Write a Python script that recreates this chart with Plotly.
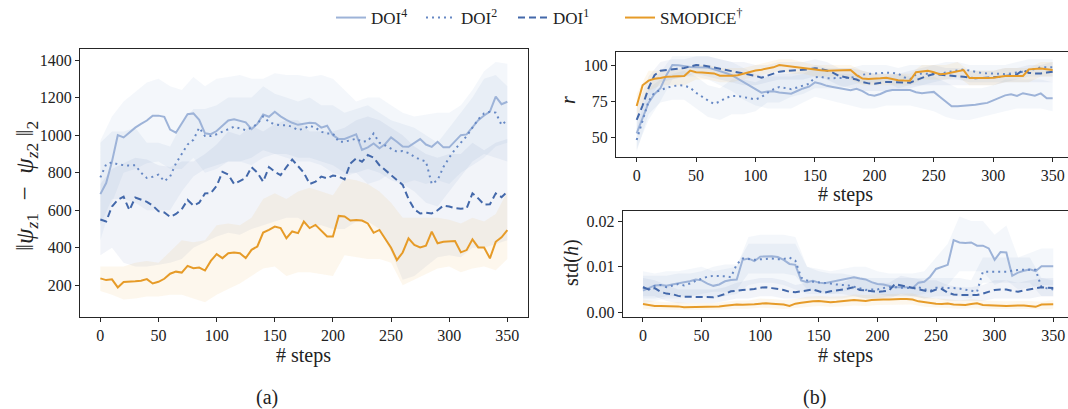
import plotly.graph_objects as go

# ---------------- data ----------------
steps = list(range(0, 355, 5))          # 71 points for the mean lines
steps_band = list(range(0, 360, 10))    # 36 points for the shaded bands

# Panel (a): ||psi_z1 - psi_z2||_2
dist_doi4 = [686, 745, 860, 1000, 988, 1015, 1040, 1060, 1078, 1104, 1104, 1098, 1030, 1013, 1060, 1112,
             1116, 1082, 1010, 1005, 1022, 1050, 1078, 1085, 1078, 1068, 1032, 1060, 1110, 1098, 1125, 1100,
             1082, 1066, 1055, 1060, 1066, 1064, 1040, 1050, 1000, 979, 980, 992, 1004, 921, 935, 956, 930,
             953, 988, 965, 940, 938, 960, 979, 950, 938, 965, 935, 935, 965, 1000, 1004, 1040, 1080, 1105,
             1125, 1205, 1165, 1178]
dist_doi2 = [775, 845, 855, 845, 840, 838, 840, 800, 772, 778, 790, 755, 780, 850, 900, 950, 975, 1040, 995,
             995, 1005, 1018, 1030, 1045, 1036, 1027, 1040, 1060, 1100, 1070, 1058, 1053, 1053, 1045, 1027,
             1035, 1050, 1040, 1018, 1009, 1009, 965, 965, 975, 981, 965, 968, 1009, 960, 945, 928, 912, 915,
             905, 885, 870, 860, 740, 760, 830, 880, 925, 960, 995, 1040, 1085, 1116, 1125, 1120, 1054, 1080]
dist_doi1 = [551, 540, 620, 655, 672, 600, 668, 655, 645, 625, 595, 588, 565, 580, 605, 655, 625, 640, 690,
             692, 730, 805, 790, 740, 755, 772, 830, 800, 752, 830, 805, 787, 830, 870, 835, 800, 740, 752,
             779, 770, 785, 780, 765, 849, 876, 858, 894, 880, 840, 815, 785, 765, 735, 660, 605, 583, 587,
             583, 600, 625, 620, 611, 608, 610, 690, 663, 630, 632, 690, 670, 699]
dist_smodice = [237, 228, 232, 189, 218, 218, 222, 225, 233, 210, 219, 235, 262, 273, 268, 304, 291, 295,
                279, 330, 366, 345, 371, 375, 371, 345, 389, 407, 481, 496, 513, 505, 451, 487, 478, 540,
                505, 522, 492, 460, 460, 570, 567, 545, 548, 545, 530, 480, 495, 450, 400, 335, 375, 450,
                415, 402, 411, 486, 424, 432, 432, 436, 376, 388, 445, 402, 402, 344, 432, 456, 494]

dist_doi4_lo = [440, 640, 800, 820, 850, 860, 820, 820, 880, 800, 820, 860, 860, 840, 880, 900, 880, 860,
                860, 840, 800, 780, 800, 740, 760, 800, 740, 760, 740, 760, 740, 800, 840, 880, 940, 960]
dist_doi4_hi = [970, 1100, 1180, 1230, 1280, 1300, 1260, 1240, 1310, 1260, 1300, 1310, 1320, 1300, 1300,
                1330, 1320, 1320, 1310, 1320, 1300, 1240, 1180, 1200, 1200, 1160, 1120, 1100, 1110, 1120,
                1120, 1160, 1240, 1340, 1390, 1380]
dist_doi2_lo = [520, 660, 660, 640, 600, 600, 600, 700, 780, 820, 840, 860, 860, 880, 920, 900, 900, 880,
                880, 860, 840, 800, 800, 820, 800, 760, 740, 700, 640, 620, 700, 780, 860, 900, 880, 860]
dist_doi2_hi = [960, 1020, 1020, 1040, 960, 960, 940, 1060, 1140, 1140, 1160, 1200, 1200, 1200, 1260, 1220,
                1200, 1180, 1200, 1160, 1160, 1120, 1140, 1160, 1120, 1080, 1060, 1040, 1000, 960, 1040,
                1120, 1200, 1300, 1320, 1260]
dist_doi1_lo = [360, 400, 320, 300, 300, 310, 320, 340, 400, 430, 460, 480, 470, 500, 520, 540, 560, 560,
                520, 520, 500, 500, 540, 540, 500, 380, 230, 250, 300, 350, 360, 350, 400, 400, 420, 440]
dist_doi1_hi = [740, 820, 850, 880, 870, 840, 830, 860, 860, 900, 950, 1020, 1000, 1050, 1020, 1060, 1080,
                1080, 1020, 1020, 1020, 1040, 1080, 1100, 1080, 1040, 1000, 940, 900, 880, 900, 900, 960,
                920, 960, 980]
dist_smodice_lo = [170, 150, 125, 130, 140, 140, 150, 150, 130, 110, 150, 180, 210, 250, 290, 300, 250, 270,
                   270, 260, 250, 360, 350, 340, 340, 320, 200, 230, 260, 290, 300, 270, 290, 300, 280, 340]
dist_smodice_hi = [300, 300, 300, 320, 330, 320, 380, 440, 430, 440, 520, 530, 520, 560, 660, 690, 660, 700,
                   720, 700, 680, 770, 760, 740, 700, 640, 560, 560, 560, 560, 550, 530, 560, 540, 580, 700]

# Panel (b) top: r
r_doi4 = [52.8, 63, 74, 80, 84, 93, 100, 99.8, 99, 98.6, 98.4, 98.4, 98.2, 97, 96, 94.5, 93, 90.5, 88.3,
          85.5, 83, 80.9, 81.7, 81.8, 81, 80.4, 80.2, 82, 83.8, 85, 88, 87, 85.6, 84.8, 84, 83, 82.5, 83.5,
          82, 79.5, 78.8, 80, 81.8, 82.7, 82.7, 82.7, 82.7, 81.2, 80.5, 81, 81.4, 78, 74.5, 71.5, 71.5, 71.7,
          72.1, 72.6, 73.2, 73.8, 75.5, 77, 79, 79.8, 78.6, 80.5, 79.5, 78.8, 80.4, 77, 77]
r_doi2 = [48.2, 61, 75, 81, 82.8, 84.2, 85.2, 86, 85.8, 84.3, 80.8, 78, 75.5, 73.2, 74.7, 77.2, 78.6, 78.6,
          78, 77, 76.2, 77.8, 80.8, 83.2, 84.8, 84, 83.3, 84.5, 85.8, 87, 91.5, 91.8, 90.8, 90.8, 90.8, 90.9,
          91.2, 92, 93.3, 93.8, 94.2, 94.5, 94.7, 94.5, 94, 91.5, 90.1, 93.5, 94.2, 93.9, 93.6, 94, 94.6,
          95.5, 96.3, 97, 96, 95.2, 94.5, 94.2, 94.2, 93.9, 93.6, 94.1, 94.7, 95.4, 96.3, 97.5, 98.4, 98.4, 98.4]
r_doi1 = [62, 72, 84, 93, 96, 96.5, 96.8, 97, 98, 99, 100, 99.8, 99.3, 98.3, 97.4, 96.6, 96, 95.3, 94.6,
          93.6, 92.5, 91.2, 92.5, 94, 95.4, 95.8, 96.1, 96.1, 96.3, 97, 97.8, 97.3, 96.2, 94.7, 92.5, 91.7,
          91.3, 90, 88.2, 87.3, 87, 87.6, 88.3, 88.2, 88, 87.9, 87.8, 89.5, 91.3, 92.6, 93.8, 93.3, 92.7,
          92.3, 92.1, 91.9, 91.4, 90.9, 91, 91.1, 91.2, 91.8, 92.4, 93, 93.6, 96.5, 94.5, 94.2, 94.2, 94.8, 95.4]
r_smodice = [71.7, 86, 89.2, 90.5, 91, 91.9, 92, 92, 92.4, 96.1, 95, 94.8, 94.6, 94.2, 92.6, 92.4, 92.5,
             92.9, 94, 95.5, 96.2, 96.8, 97.8, 98.4, 100, 99.4, 98.8, 98.4, 98, 97.5, 96.8, 96.3, 96.1, 96.1,
             96.1, 96.3, 96.5, 93, 90.6, 90.3, 90.3, 90.8, 91.2, 90.4, 89.5, 89.3, 89.2, 95, 95.6, 96, 95,
             93.6, 94, 95, 95.6, 96.5, 91, 90.9, 90.8, 91, 91.2, 91.8, 92.4, 92.4, 92.4, 92.4, 97, 97.3, 97.5,
             97, 96.5]

r_doi4_lo = [42, 62, 75, 90, 92, 92, 90, 86, 82, 76, 72, 70, 70, 70, 74, 78, 76, 74, 72, 70, 70, 72, 72, 72,
             70, 68, 64, 62, 62, 64, 66, 68, 70, 70, 70, 68]
r_doi4_hi = [64, 86, 95, 106, 106, 106, 106, 104, 102, 98, 94, 92, 92, 92, 94, 98, 96, 94, 94, 92, 90, 92,
             94, 92, 92, 92, 88, 84, 84, 84, 86, 90, 90, 90, 90, 88]
r_doi2_lo = [40, 66, 74, 76, 76, 70, 64, 62, 66, 66, 68, 74, 74, 78, 80, 84, 84, 84, 86, 88, 88, 88, 84, 86,
             86, 88, 90, 90, 88, 88, 88, 88, 90, 92, 92, 92]
r_doi2_hi = [56, 84, 90, 94, 96, 92, 86, 84, 90, 90, 88, 92, 94, 94, 96, 100, 98, 98, 98, 100, 100, 100, 98,
             100, 100, 100, 102, 102, 100, 100, 100, 100, 102, 104, 104, 104]
r_doi1_lo = [54, 76, 88, 90, 92, 94, 92, 90, 88, 86, 86, 88, 90, 90, 90, 92, 90, 86, 84, 82, 82, 82, 82, 84,
             86, 86, 86, 86, 86, 86, 86, 88, 88, 88, 88, 88]
r_doi1_hi = [70, 92, 102, 104, 104, 106, 106, 104, 102, 102, 100, 100, 102, 102, 102, 104, 102, 98, 98, 96,
             94, 94, 94, 96, 98, 100, 98, 98, 96, 96, 96, 98, 98, 100, 100, 102]
r_smodice_lo = [64, 82, 86, 86, 86, 90, 90, 88, 88, 90, 92, 94, 96, 94, 94, 92, 92, 92, 90, 86, 86, 86, 86,
                86, 90, 90, 90, 92, 86, 86, 86, 88, 88, 88, 92, 92]
r_smodice_hi = [80, 96, 96, 96, 98, 100, 100, 98, 98, 98, 100, 102, 104, 104, 102, 100, 100, 100, 100, 96,
                94, 94, 94, 94, 100, 100, 100, 102, 96, 96, 96, 98, 98, 98, 102, 102]

# Panel (b) bottom: std(h), values in units of 1e-3
std_doi4_milli = [4.75, 5.4, 5.9, 6.0, 5.8, 6.1, 6.4, 6.6, 6.8, 7.2, 7.0, 6.3, 5.8, 6.1, 6.8, 7.1, 7.2, 11.5,
                  11.8, 11.2, 12.2, 12.3, 12.3, 12.1, 11.5, 10.6, 10.4, 7.0, 6.6, 6.9, 6.5, 6.35, 6.6, 6.9,
                  7.2, 7.5, 7.7, 7.4, 7.2, 6.6, 6.2, 6.1, 5.8, 5.5, 5.5, 5.5, 5.3, 6.5, 6.7, 7.8, 9.5, 10.0,
                  10.4, 15.8, 15.3, 15.2, 15.3, 14.6, 14.6, 14.0, 11.5, 13.2, 13.1, 8.0, 8.7, 9.1, 9.4, 9.0,
                  10.1, 10.1, 10.1]
std_doi2_milli = [5.5, 5.0, 5.8, 6.0, 5.5, 5.8, 6.2, 5.9, 6.3, 6.9, 7.3, 7.8, 8.0, 8.0, 7.9, 7.7, 10.5, 11.8,
                  11.7, 11.5, 11.6, 11.7, 11.8, 11.6, 11.7, 12.0, 11.3, 7.6, 7.0, 6.7, 6.6, 6.5, 6.3, 6.1,
                  6.0, 5.9, 5.6, 5.3, 4.9, 5.0, 5.0, 5.3, 5.5, 5.5, 5.4, 5.3, 5.4, 5.5, 5.1, 4.7, 5.4, 5.4,
                  5.3, 5.3, 5.2, 5.0, 4.7, 4.5, 8.9, 8.9, 8.9, 8.9, 8.9, 9.1, 9.3, 9.3, 9.3, 9.3, 5.5, 5.2, 5.0]
std_doi1_milli = [5.5, 5.0, 5.3, 4.5, 4.1, 4.0, 3.6, 3.4, 3.4, 3.4, 3.4, 3.4, 3.3, 3.6, 4.0, 4.6, 4.8, 4.9,
                  5.0, 5.1, 5.4, 5.5, 5.3, 5.1, 4.9, 4.5, 4.4, 4.6, 4.8, 5.0, 4.6, 4.3, 4.6, 4.8, 4.9, 5.2,
                  5.5, 4.9, 4.8, 4.6, 4.5, 4.6, 4.8, 6.2, 5.9, 5.6, 5.3, 5.0, 4.8, 4.5, 5.0, 5.1, 4.3, 3.9,
                  3.8, 3.8, 3.8, 3.8, 4.1, 4.5, 4.9, 5.0, 5.0, 4.7, 4.5, 4.8, 5.0, 5.3, 5.5, 5.4, 5.3]
std_smodice_milli = [1.8, 1.6, 1.4, 1.4, 1.4, 1.4, 1.3, 1.1, 1.1, 1.2, 1.15, 1.1, 1.15, 1.25, 1.45, 1.6,
                     1.7, 1.65, 1.65, 1.75, 1.9, 2.0, 1.9, 1.8, 1.7, 1.4, 1.9, 2.1, 2.3, 2.4, 2.5, 2.3, 2.2,
                     2.3, 2.4, 2.5, 2.7, 2.6, 2.5, 2.7, 2.8, 2.8, 2.8, 2.9, 2.9, 2.9, 2.8, 2.4, 2.2, 2.05,
                     1.9, 1.8, 1.95, 1.7, 1.65, 1.6, 1.8, 2.0, 1.6, 1.6, 1.55, 1.45, 1.4, 1.5, 1.5, 1.5, 1.4,
                     1.2, 1.7, 1.75, 1.75]

std_doi4_lo_milli = [2.0, 2.5, 3.0, 3.0, 3.5, 3.5, 3.0, 3.5, 4.0, 6.0, 6.5, 6.5, 6.0, 5.0, 4.0, 4.0, 4.0, 4.5,
                     5.0, 4.5, 4.0, 3.5, 3.5, 3.5, 4.0, 5.0, 6.0, 9.0, 9.0, 9.0, 6.0, 7.0, 5.0, 5.5, 6.0, 6.0]
std_doi4_hi_milli = [9.0, 8.5, 9.0, 9.0, 9.5, 10, 9.0, 9.5, 10, 16.5, 17, 17, 17, 16.5, 10, 9.5, 9.0, 9.5, 10,
                     10, 9.0, 8.5, 8.5, 8.5, 9.0, 12, 15, 21, 20, 20, 17, 19, 12, 13, 14, 14]
std_doi2_lo_milli = [3.0, 3.0, 3.5, 3.5, 3.5, 4.0, 4.5, 4.5, 5.0, 8.5, 8.5, 8.5, 8.5, 8.0, 5.0, 4.5, 4.0, 4.0,
                     3.5, 3.0, 3.0, 3.5, 3.5, 3.5, 3.0, 3.5, 3.5, 3.5, 3.0, 6.5, 6.5, 6.5, 6.5, 6.5, 3.5, 3.5]
std_doi2_hi_milli = [8.0, 8.0, 8.0, 8.5, 8.5, 9.0, 10, 10.5, 10.5, 15, 15, 15, 15, 15, 10, 9.0, 8.5, 8.5, 8.0,
                     7.5, 7.5, 7.5, 7.5, 7.5, 7.5, 7.5, 7.5, 7.5, 7.0, 12, 12, 12, 12, 12, 7.5, 7.0]
std_doi1_lo_milli = [3.5, 3.5, 2.5, 2.0, 2.0, 2.0, 2.0, 2.5, 3.0, 3.0, 3.5, 3.5, 3.0, 3.0, 3.0, 3.0, 3.0, 3.0,
                     3.5, 3.0, 3.0, 3.0, 4.0, 3.5, 3.0, 3.0, 2.5, 2.5, 2.5, 2.5, 3.0, 3.0, 3.0, 3.0, 3.5, 3.5]
std_doi1_hi_milli = [7.5, 7.0, 6.0, 5.0, 5.0, 5.0, 5.0, 5.5, 6.5, 7.0, 7.5, 7.5, 7.0, 6.0, 6.5, 6.5, 6.5, 6.5,
                     7.5, 7.0, 6.5, 6.5, 8.0, 7.5, 7.0, 7.0, 6.0, 5.5, 5.5, 6.0, 7.0, 7.0, 6.5, 7.0, 7.5, 7.5]
std_smodice_lo_milli = [0.8, 0.6, 0.6, 0.5, 0.5, 0.5, 0.5, 0.6, 0.8, 0.8, 1.0, 0.9, 0.7, 0.9, 1.2, 1.4, 1.2,
                        1.3, 1.5, 1.4, 1.6, 1.6, 1.7, 1.7, 1.2, 1.0, 0.9, 0.8, 0.9, 0.8, 0.7, 0.6, 0.7, 0.7,
                        0.6, 0.8]
std_smodice_hi_milli = [2.8, 2.4, 2.2, 2.2, 2.0, 2.0, 2.0, 2.3, 2.6, 2.6, 3.0, 2.9, 2.7, 2.9, 3.4, 3.6, 3.4,
                        3.5, 3.9, 3.8, 4.0, 4.0, 4.1, 4.1, 3.4, 3.0, 2.9, 2.6, 2.9, 2.6, 2.5, 2.4, 2.5, 2.5,
                        2.3, 2.7]

series_names = ["DOI<sup>4</sup>", "DOI<sup>2</sup>", "DOI<sup>1</sup>", "SMODICE<sup>†</sup>"]
x_ticks = [0, 50, 100, 150, 200, 250, 300, 350]
dist_ticks = [200, 400, 600, 800, 1000, 1200, 1400]
r_ticks = [50, 75, 100]
std_ticks = [0.0, 0.01, 0.02]

# ---------------- styling ----------------
line_colors = ["rgb(157,179,216)", "rgb(102,136,196)", "rgb(67,104,170)", "rgb(230,155,40)"]
band_colors = ["rgba(157,179,216,0.11)", "rgba(102,136,196,0.08)", "rgba(67,104,170,0.07)",
               "rgba(238,185,90,0.11)"]
dashes = ["solid", "2px,4px", "7px,4px", "solid"]
legend_ids = ["legend", "legend2", "legend3", "legend4"]
legend_left_px = [331, 421, 513, 620]
FONT = "Liberation Serif, DejaVu Serif, serif"
AX = "#262626"

fig = go.Figure()


def add_panel(xa, ya, means, los, his, scale=1.0, legend=False):
    for i in range(4):
        lo = [v * scale for v in los[i]]
        hi = [v * scale for v in his[i]]
        fig.add_trace(go.Scatter(
            x=steps_band + steps_band[::-1], y=hi + lo[::-1], fill="toself",
            fillcolor=band_colors[i], line=dict(width=0), mode="lines",
            hoverinfo="skip", showlegend=False, xaxis=xa, yaxis=ya))
    for i in range(4):
        fig.add_trace(go.Scatter(
            x=steps, y=[v * scale for v in means[i]], mode="lines", name=series_names[i],
            line=dict(color=line_colors[i], width=2, dash=dashes[i]),
            showlegend=legend, legend=legend_ids[i], xaxis=xa, yaxis=ya))


add_panel("x", "y",
          [dist_doi4, dist_doi2, dist_doi1, dist_smodice],
          [dist_doi4_lo, dist_doi2_lo, dist_doi1_lo, dist_smodice_lo],
          [dist_doi4_hi, dist_doi2_hi, dist_doi1_hi, dist_smodice_hi], legend=True)
add_panel("x2", "y2",
          [r_doi4, r_doi2, r_doi1, r_smodice],
          [r_doi4_lo, r_doi2_lo, r_doi1_lo, r_smodice_lo],
          [r_doi4_hi, r_doi2_hi, r_doi1_hi, r_smodice_hi])
add_panel("x3", "y3",
          [std_doi4_milli, std_doi2_milli, std_doi1_milli, std_smodice_milli],
          [std_doi4_lo_milli, std_doi2_lo_milli, std_doi1_lo_milli, std_smodice_lo_milli],
          [std_doi4_hi_milli, std_doi2_hi_milli, std_doi1_hi_milli, std_smodice_hi_milli], scale=1e-3)

W, H = 1068, 409


def px_x(p):
    return p / W


def px_y(p):
    return 1 - p / H


common = dict(showgrid=False, zeroline=False, showline=True, linecolor=AX, linewidth=1.2,
              ticks="outside", ticklen=4, tickwidth=1.2, tickcolor=AX,
              tickfont=dict(family=FONT, size=16, color="#222"), automargin=False)

layout_legends = {}
for lid, lx in zip(legend_ids, legend_left_px):
    layout_legends[lid] = dict(orientation="h", x=px_x(lx), xanchor="left", y=px_y(18), yanchor="middle",
                               font=dict(family=FONT, size=17, color="#222"), bgcolor="rgba(0,0,0,0)",
                               itemwidth=30)

fig.update_layout(
    width=W, height=H, margin=dict(l=0, r=0, t=0, b=0),
    paper_bgcolor="white", plot_bgcolor="white",
    font=dict(family=FONT, color="#222"),
    xaxis=dict(domain=[px_x(80), px_x(527.7)], range=[-17.5, 367.5], tickvals=x_ticks,
               anchor="y", mirror=True, **common),
    yaxis=dict(domain=[px_y(316.7), px_y(49)], range=[33, 1459], tickvals=dist_ticks,
               anchor="x", mirror=True, **common),
    xaxis2=dict(domain=[px_x(616), 1.0], range=[-17.4, 362.9], tickvals=x_ticks,
                anchor="y2", mirror=True, **common),
    yaxis2=dict(domain=[px_y(157), px_y(51.7)], range=[36.4, 109.2], tickvals=r_ticks,
                anchor="x2", mirror=False, **common),
    xaxis3=dict(domain=[px_x(622.7), 1.0], range=[-17.3, 362.6], tickvals=x_ticks,
                anchor="y3", mirror=True, **common),
    yaxis3=dict(domain=[px_y(316.7), px_y(210.7)], range=[-0.00096, 0.02226], tickvals=std_ticks,
                tickformat=".2f", anchor="x3", mirror=False, **common),
    showlegend=True,
    **layout_legends,
)

ann = dict(showarrow=False, xref="paper", yref="paper", font=dict(family=FONT, size=20, color="#222"))
fig.add_annotation(text="# steps", x=px_x(303), y=px_y(355), xanchor="center", yanchor="middle", **ann)
fig.add_annotation(text="# steps", x=px_x(845), y=px_y(195), xanchor="center", yanchor="middle", **ann)
fig.add_annotation(text="# steps", x=px_x(845), y=px_y(355), xanchor="center", yanchor="middle", **ann)
fig.add_annotation(
    text="‖<i>ψ</i><sub><i>z</i>1</sub>&nbsp;&nbsp;−&nbsp;&nbsp;<i>ψ</i><sub><i>z</i>2</sub>&nbsp;‖<sub>2</sub>",
    x=px_x(26), y=px_y(186), xanchor="center", yanchor="middle", textangle=-90,
    showarrow=False, xref="paper", yref="paper", font=dict(family=FONT, size=25, color="#222"))
fig.add_annotation(text="<i>r</i>", x=px_x(568), y=px_y(100), xanchor="center", yanchor="middle",
                   textangle=-90, **ann)
fig.add_annotation(text="std(<i>h</i>)", x=px_x(571), y=px_y(263), xanchor="center", yanchor="middle",
                   textangle=-90, **ann)
fig.add_annotation(text="(a)", x=px_x(267), y=px_y(397), xanchor="center", yanchor="middle", **ann)
fig.add_annotation(text="(b)", x=px_x(814), y=px_y(397), xanchor="center", yanchor="middle", **ann)

fig.write_html("out.html", config={"displayModeBar": False},
               post_script="document.body.style.margin='0px';")
